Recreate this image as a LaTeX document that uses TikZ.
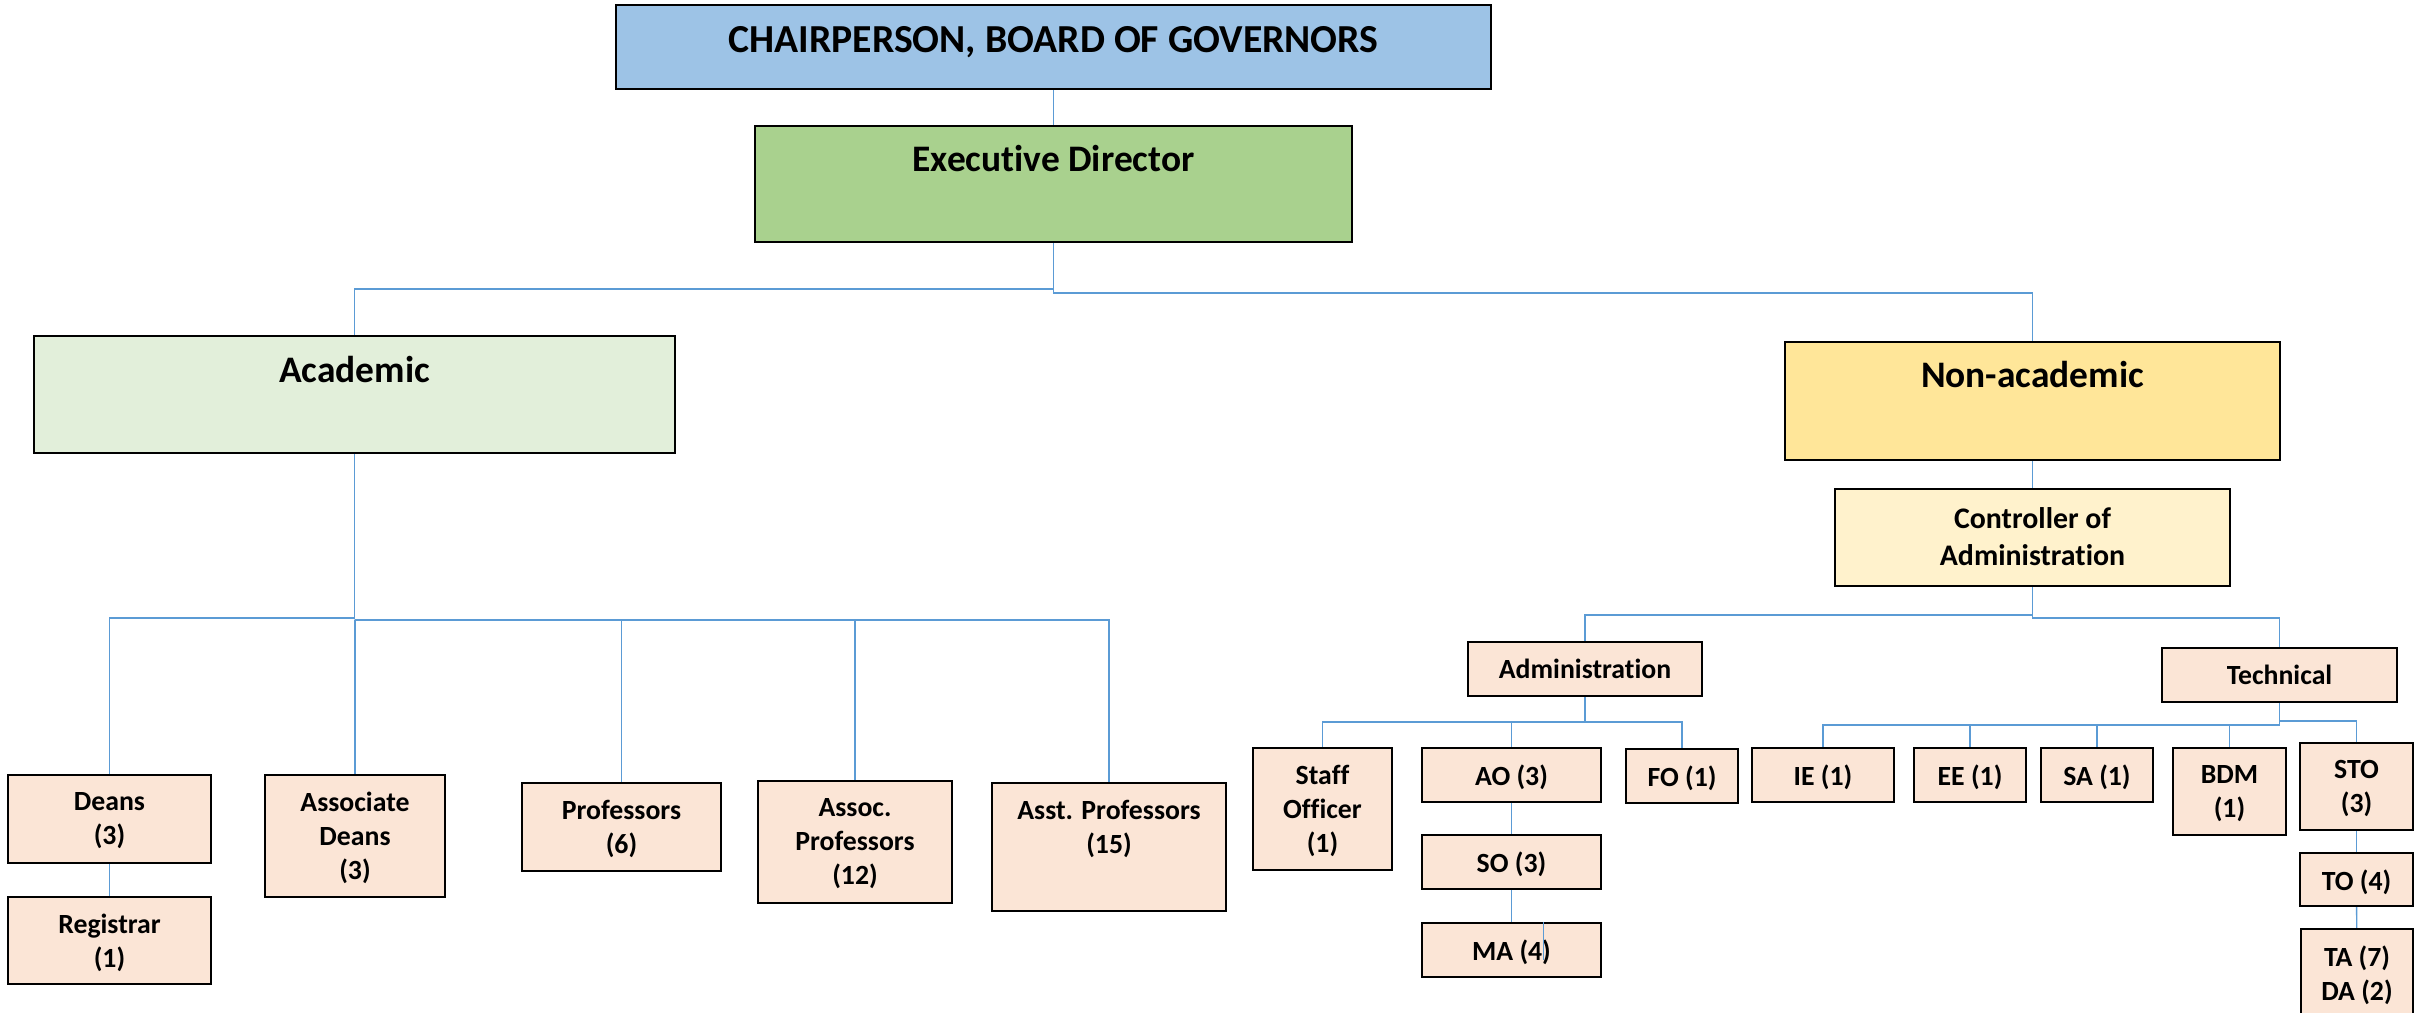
\documentclass[tikz,border=0pt]{standalone}
\usepackage{fontspec}
\setmainfont[Ligatures={NoCommon}]{Carlito}
\def\pxu{*0.02cm}
\def\chairfont{\fontsize{22.6}{27}\selectfont\bfseries}
\def\headfont{\fontsize{21.3}{25}\selectfont\bfseries}
\def\ctrlfont{\fontsize{17}{21.5}\selectfont\bfseries}
\def\boxfont{\fontsize{15.8}{19.3}\selectfont\bfseries}
\definecolor{chair fill}{HTML}{9DC3E6}
\definecolor{director fill}{HTML}{A9D18E}
\definecolor{academic fill}{HTML}{E2EFDA}
\definecolor{nonacademic fill}{HTML}{FFE699}
\definecolor{controller fill}{HTML}{FFF2CC}
\definecolor{staff fill}{HTML}{FBE5D6}
\definecolor{link blue}{HTML}{5B9BD5}
\tikzset{box/.style={draw=black, line width=1.3pt, inner sep=0pt},
    staffbox/.style={box, fill=staff fill},
    link/.style={draw=link blue, line width=0.8pt},
    headtext/.style={anchor=north, align=center, inner sep=0pt, font=\headfont},
    stafftext/.style={anchor=north, align=center, inner sep=0pt, font=\boxfont, yshift=-18\pxu}}

\begin{document}
\begin{tikzpicture}[x=0.02cm, y=-0.02cm]
    \useasboundingbox (0,0) rectangle (2415,1013);
    \clip (0,0) rectangle (2415,1013);

    % top levels
    \node[box, fill=chair fill, minimum width=875\pxu, minimum height=84\pxu,
        label={[headtext, font=\chairfont, yshift=-22\pxu]north:{CHAIRPERSON, BOARD OF GOVERNORS}}] (chair) at (1053.5,47) {};
    \node[box, fill=director fill, minimum width=597\pxu, minimum height=116\pxu,
        label={[headtext, yshift=-20\pxu]north:Executive Director}] (director) at (1053.5,184) {};
    \node[box, fill=academic fill, minimum width=641\pxu, minimum height=117\pxu,
        label={[headtext, yshift=-21\pxu]north:Academic}] (academic) at (354.5,394.5) {};
    \node[box, fill=nonacademic fill, minimum width=495\pxu, minimum height=118\pxu,
        label={[headtext, yshift=-20\pxu]north:Non-academic}] (nonacademic) at (2032.5,401) {};
    \node[box, fill=controller fill, minimum width=395\pxu, minimum height=97\pxu,
        label={[headtext, font=\ctrlfont, yshift=-19\pxu]north:{Controller of\\Administration}}] (controller) at (2032.5,537.5) {};

    % academic staff
    \node[staffbox, minimum width=203\pxu, minimum height=88\pxu,
        label={[stafftext]north:{Deans\\(3)}}] (deans) at (109.5,819) {};
    \node[staffbox, minimum width=203\pxu, minimum height=87\pxu,
        label={[stafftext]north:{Registrar\\(1)}}] (registrar) at (109.5,940.5) {};
    \node[staffbox, minimum width=180\pxu, minimum height=122\pxu,
        label={[stafftext]north:{Associate\\Deans\\(3)}}] (assocdeans) at (355,836) {};
    \node[staffbox, minimum width=199\pxu, minimum height=88\pxu,
        label={[stafftext]north:{Professors\\(6)}}] (professors) at (621.5,827) {};
    \node[staffbox, minimum width=194\pxu, minimum height=122\pxu,
        label={[stafftext]north:{Assoc.\\Professors\\(12)}}] (assocprof) at (855,842) {};
    \node[staffbox, minimum width=234\pxu, minimum height=128\pxu,
        label={[stafftext]north:{Asst. Professors\\(15)}}] (asstprof) at (1109,847) {};

    % non-academic staff
    \node[staffbox, minimum width=234\pxu, minimum height=54\pxu,
        label={[stafftext]north:Administration}] (administration) at (1585,669) {};
    \node[staffbox, minimum width=235\pxu, minimum height=54\pxu,
        label={[stafftext]north:Technical}] (technical) at (2279.5,675) {};
    \node[staffbox, minimum width=139\pxu, minimum height=122\pxu,
        label={[stafftext]north:{Staff\\Officer\\(1)}}] (staffofficer) at (1322.5,809) {};
    \node[staffbox, minimum width=179\pxu, minimum height=54\pxu,
        label={[stafftext]north:AO (3)}] (ao) at (1511.5,775) {};
    \node[staffbox, minimum width=179\pxu, minimum height=54\pxu,
        label={[stafftext]north:SO (3)}] (so) at (1511.5,862) {};
    \node[staffbox, minimum width=179\pxu, minimum height=54\pxu,
        label={[stafftext]north:MA (4)}] (ma) at (1511.5,950) {};
    \node[staffbox, minimum width=112\pxu, minimum height=54\pxu,
        label={[stafftext]north:FO (1)}] (fo) at (1682,776) {};
    \node[staffbox, minimum width=142\pxu, minimum height=54\pxu,
        label={[stafftext]north:IE (1)}] (ie) at (1823,775) {};
    \node[staffbox, minimum width=112\pxu, minimum height=54\pxu,
        label={[stafftext]north:EE (1)}] (ee) at (1970,775) {};
    \node[staffbox, minimum width=112\pxu, minimum height=54\pxu,
        label={[stafftext]north:SA (1)}] (sa) at (2097,775) {};
    \node[staffbox, minimum width=113\pxu, minimum height=87\pxu,
        label={[stafftext]north:{BDM\\(1)}}] (bdm) at (2229.5,791.5) {};
    \node[staffbox, minimum width=113\pxu, minimum height=87\pxu,
        label={[stafftext]north:{STO\\(3)}}] (sto) at (2356.5,786.5) {};
    \node[staffbox, minimum width=113\pxu, minimum height=53\pxu,
        label={[stafftext]north:TO (4)}] (tofficer) at (2356.5,879.5) {};
    \node[staffbox, minimum width=112\pxu, minimum height=101\pxu,
        label={[stafftext]north:{TA (7)\\DA (2)}}] (tada) at (2357,979.5) {};

    % connectors
    \draw[link] (chair) -- (director);
    \draw[link] (director.south) -- ++(0,46) -| (academic.north);
    \draw[link] (director.south) -- ++(0,50) -| (nonacademic.north);

    \draw[link] (academic.south) -- ++(0,164) -| (deans.north);
    \path (academic.south) ++(0,166) coordinate (academic bus);
    \foreach \n in {assocdeans, professors, assocprof, asstprof}
        \draw[link] (academic bus) -| (\n.north);
    \draw[link] (deans) -- (registrar);

    \draw[link] (nonacademic) -- (controller);
    \draw[link] (controller.south) -- ++(0,28) -| (administration.north);
    \draw[link] (controller.south) -- ++(0,31) -| (technical.north);

    \path (administration.south) ++(0,25) coordinate (admin bus);
    \draw[link] (administration.south) -- (admin bus);
    \foreach \n in {staffofficer, ao, fo}
        \draw[link] (admin bus) -| (\n.north);
    \draw[link] (ao) -- (so);
    \draw[link] (so) -- (ma);
    \draw[link] ([xshift=32\pxu]ma.north) -- ++(0,38);

    \path (technical.south) ++(0,22) coordinate (tech bus);
    \draw[link] (technical.south) -- (tech bus);
    \foreach \n in {ie, ee, sa, bdm}
        \draw[link] (tech bus) -| (\n.north);
    \draw[link] (technical.south) ++(0,18) -| (sto.north);
    \draw[link] (sto) -- (tofficer);
    \draw[link] (tofficer) -- (tada);
\end{tikzpicture}
\end{document}
